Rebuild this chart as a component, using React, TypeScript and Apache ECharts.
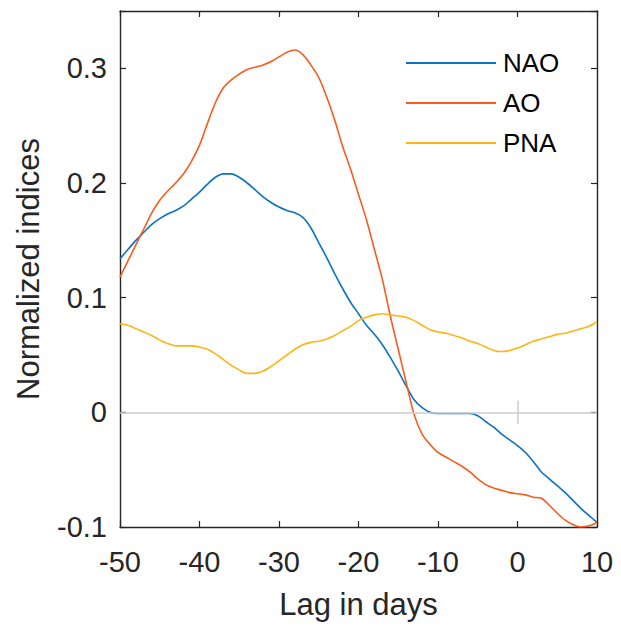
import React, { useEffect, useRef } from "react";
import * as echarts from "echarts";

const lagDays = [
  -50, -49, -48, -47, -46, -45, -44, -43, -42, -41, -40, -39, -38, -37, -36, -35, -34, -33, -32, -31,
  -30, -29, -28, -27, -26, -25, -24, -23, -22, -21, -20, -19, -18, -17, -16, -15, -14, -13, -12, -11,
  -10, -9, -8, -7, -6, -5, -4, -3, -2, -1, 0, 1, 2, 3, 4, 5, 6, 7, 8, 9, 10,
];

const naoValues = [
  0.134, 0.142, 0.150, 0.157, 0.164, 0.169, 0.173, 0.176, 0.180, 0.186,
  0.192, 0.199, 0.205, 0.208, 0.208, 0.205, 0.200, 0.194, 0.188, 0.183,
  0.179, 0.176, 0.174, 0.170, 0.161, 0.148, 0.135, 0.121, 0.108, 0.096,
  0.086, 0.076, 0.068, 0.059, 0.048, 0.036, 0.023, 0.011, 0.004, 0.000,
  -0.001, -0.001, -0.001, -0.001, -0.001, -0.003, -0.008, -0.013, -0.019, -0.024,
  -0.029, -0.035, -0.043, -0.052, -0.058, -0.064, -0.070, -0.077, -0.084, -0.090,
  -0.096,
];

const aoValues = [
  0.118, 0.132, 0.146, 0.160, 0.174, 0.185, 0.193, 0.200, 0.208, 0.219,
  0.233, 0.252, 0.270, 0.283, 0.290, 0.295, 0.299, 0.301, 0.303, 0.306,
  0.310, 0.314, 0.316, 0.312, 0.303, 0.292, 0.275, 0.255, 0.232, 0.212,
  0.190, 0.168, 0.142, 0.116, 0.084, 0.055, 0.026, -0.002, -0.019, -0.028,
  -0.035, -0.039, -0.043, -0.047, -0.052, -0.058, -0.063, -0.066, -0.068, -0.070,
  -0.071, -0.072, -0.074, -0.075, -0.081, -0.088, -0.094, -0.098, -0.100, -0.099,
  -0.096,
];

const pnaValues = [
  0.077, 0.076, 0.073, 0.070, 0.067, 0.063, 0.060, 0.058, 0.058, 0.058,
  0.057, 0.055, 0.051, 0.046, 0.041, 0.037, 0.034, 0.034, 0.036, 0.040,
  0.045, 0.050, 0.055, 0.059, 0.061, 0.062, 0.064, 0.067, 0.071, 0.075,
  0.080, 0.083, 0.085, 0.086, 0.085, 0.084, 0.083, 0.080, 0.076, 0.072,
  0.070, 0.069, 0.067, 0.065, 0.062, 0.060, 0.057, 0.054, 0.053, 0.054,
  0.056, 0.059, 0.062, 0.064, 0.066, 0.068, 0.069, 0.071, 0.073, 0.075,
  0.079,
];

const seriesNames = ["NAO", "AO", "PNA"];
const seriesColors = ["#0b72c4", "#fc5a1a", "#fdb515"];
const xTicks = [-50, -40, -30, -20, -10, 0, 10];
const yTicks = [-0.1, 0, 0.1, 0.2, 0.3];
const zeroLevel = 0;
const lagMarker = { x: 0, halfHeight: 0.01 };

const FONT = "'Liberation Sans', Arial, Helvetica, sans-serif";
const AXIS_COLOR = "#262626";

export default function App() {
  const ref = useRef<HTMLDivElement>(null);

  useEffect(() => {
    if (!ref.current) return;
    const chart = echarts.init(ref.current, undefined, { renderer: "svg" });
    const valuesList = [naoValues, aoValues, pnaValues];

    const fmt = (v: number) => {
      const r = Math.round(v * 100) / 100;
      if (!yTicks.some((t) => Math.abs(t - r) < 1e-9)) return "";
      return String(r);
    };

    const baseAxis = {
      axisLine: { show: true, onZero: false, lineStyle: { color: AXIS_COLOR, width: 1.4 } },
      axisTick: { show: true, inside: true, length: 6, lineStyle: { color: AXIS_COLOR, width: 1.2 } },
      splitLine: { show: false },
    };

    const option: any = {
      animation: false,
      textStyle: { fontFamily: FONT },
      grid: { left: 120, top: 11, width: 477, height: 516, containLabel: false },
      legend: {
        orient: "vertical",
        left: 406,
        top: 48,
        padding: 0,
        icon: "rect",
        itemWidth: 90,
        itemHeight: 2,
        itemGap: 10,
        textStyle: { fontSize: 26, color: "#000", fontFamily: FONT, lineHeight: 30, padding: [0, 0, 0, 2] },
        data: seriesNames,
      },
      xAxis: [
        {
          ...baseAxis,
          type: "value",
          min: xTicks[0],
          max: xTicks[xTicks.length - 1],
          interval: 10,
          position: "bottom",
          axisLabel: { fontSize: 29, color: AXIS_COLOR, margin: 20, fontFamily: FONT },
          name: "Lag in days",
          nameLocation: "middle",
          nameGap: 62,
          nameTextStyle: { fontSize: 31, color: AXIS_COLOR, fontFamily: FONT },
        },
        {
          ...baseAxis,
          type: "value",
          min: xTicks[0],
          max: xTicks[xTicks.length - 1],
          interval: 10,
          position: "top",
          axisLabel: { show: false },
        },
      ],
      yAxis: [
        {
          ...baseAxis,
          type: "value",
          min: -0.1,
          max: 0.35,
          interval: 0.1,
          position: "left",
          axisLabel: {
            fontSize: 29,
            color: AXIS_COLOR,
            margin: 13,
            fontFamily: FONT,
            formatter: fmt,
          },
          name: "Normalized indices",
          nameLocation: "middle",
          nameGap: 76,
          nameTextStyle: { fontSize: 31, color: AXIS_COLOR, fontFamily: FONT },
        },
        {
          ...baseAxis,
          type: "value",
          min: -0.1,
          max: 0.35,
          interval: 0.1,
          position: "right",
          axisLabel: { show: false },
        },
      ],
      series: [
        {
          type: "line",
          name: "__zero",
          data: [],
          silent: true,
          markLine: {
            silent: true,
            symbol: "none",
            label: { show: false },
            lineStyle: { color: "#cccccc", width: 1.5, type: "solid" },
            data: [
              { yAxis: zeroLevel },
              [
                { coord: [lagMarker.x, zeroLevel - lagMarker.halfHeight] },
                { coord: [lagMarker.x, zeroLevel + lagMarker.halfHeight] },
              ],
            ],
          },
        },
        ...seriesNames.map((name, i) => ({
          type: "line",
          name,
          data: lagDays.map((d, k) => [d, valuesList[i][k]]),
          showSymbol: false,
          symbol: "none",
          smooth: 0.3,
          color: seriesColors[i],
          lineStyle: { color: seriesColors[i], width: 1.6 },
          z: 3 + i,
        })),
      ],
    };

    chart.setOption(option);
    return () => chart.dispose();
  }, []);

  return (
    <div
      ref={ref}
      style={{ position: "fixed", left: 0, top: 0, width: 621, height: 625, background: "#fff" }}
    />
  );
}
